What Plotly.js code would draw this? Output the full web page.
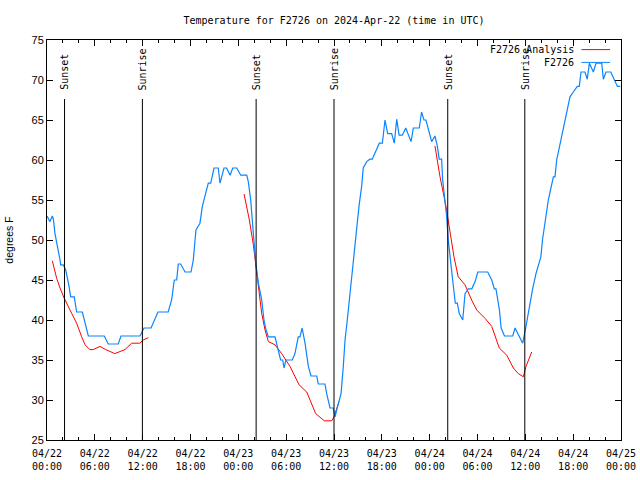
<!DOCTYPE html>
<html>
<head>
<meta charset="utf-8">
<script src="https://cdn.plot.ly/plotly-3.0.1.min.js"></script>
<style>html,body{margin:0;padding:0;background:#fff}#chart{width:640px;height:480px}</style>
</head>
<body>
<div id="chart"></div>
<script>
// Observations (F2726)
var blueTimes = [
"2024-04-22 00:00","2024-04-22 00:22","2024-04-22 00:40","2024-04-22 00:48","2024-04-22 01:00","2024-04-22 01:15","2024-04-22 01:25","2024-04-22 01:38","2024-04-22 01:43","2024-04-22 02:02",
"2024-04-22 02:21","2024-04-22 02:38","2024-04-22 02:46","2024-04-22 02:58","2024-04-22 03:25","2024-04-22 03:43","2024-04-22 04:26","2024-04-22 05:11","2024-04-22 07:11","2024-04-22 07:41",
"2024-04-22 08:56","2024-04-22 09:17","2024-04-22 11:40","2024-04-22 12:10","2024-04-22 13:03","2024-04-22 13:55","2024-04-22 15:12","2024-04-22 15:38","2024-04-22 15:58","2024-04-22 16:16",
"2024-04-22 16:28","2024-04-22 16:46","2024-04-22 17:19","2024-04-22 18:04","2024-04-22 18:21","2024-04-22 18:41","2024-04-22 19:11","2024-04-22 19:29","2024-04-22 19:49","2024-04-22 20:14",
"2024-04-22 20:32","2024-04-22 20:57","2024-04-22 21:29","2024-04-22 21:42","2024-04-22 22:12","2024-04-22 22:32","2024-04-22 22:58","2024-04-22 23:18","2024-04-22 23:48",
"2024-04-23 00:18","2024-04-23 01:03","2024-04-23 01:15","2024-04-23 01:33","2024-04-23 01:45","2024-04-23 01:58","2024-04-23 02:11","2024-04-23 02:31","2024-04-23 02:56","2024-04-23 03:13",
"2024-04-23 03:28","2024-04-23 03:46","2024-04-23 04:36","2024-04-23 05:00","2024-04-23 05:18","2024-04-23 05:34","2024-04-23 05:44","2024-04-23 05:59","2024-04-23 06:46","2024-04-23 07:06",
"2024-04-23 07:31","2024-04-23 07:44","2024-04-23 08:00","2024-04-23 08:22","2024-04-23 08:47","2024-04-23 09:07","2024-04-23 09:50","2024-04-23 10:02","2024-04-23 10:52","2024-04-23 11:05",
"2024-04-23 11:30","2024-04-23 11:54","2024-04-23 12:08","2024-04-23 12:20","2024-04-23 12:53","2024-04-23 13:10","2024-04-23 13:23","2024-04-23 13:40","2024-04-23 14:00","2024-04-23 14:18",
"2024-04-23 14:38","2024-04-23 14:51","2024-04-23 15:08","2024-04-23 15:28","2024-04-23 15:40","2024-04-23 16:06","2024-04-23 16:30","2024-04-23 16:48","2024-04-23 17:08","2024-04-23 17:41",
"2024-04-23 18:04","2024-04-23 18:24","2024-04-23 18:44","2024-04-23 19:14","2024-04-23 19:34","2024-04-23 19:52","2024-04-23 20:10","2024-04-23 20:34","2024-04-23 21:00","2024-04-23 21:40",
"2024-04-23 21:57","2024-04-23 22:42","2024-04-23 22:59","2024-04-23 23:17","2024-04-23 23:32","2024-04-23 23:50",
"2024-04-24 00:15","2024-04-24 00:40","2024-04-24 00:58","2024-04-24 01:12","2024-04-24 01:30","2024-04-24 01:38","2024-04-24 01:55","2024-04-24 02:08","2024-04-24 02:20","2024-04-24 02:33",
"2024-04-24 02:53","2024-04-24 03:13","2024-04-24 03:28","2024-04-24 03:43","2024-04-24 04:09","2024-04-24 04:26","2024-04-24 04:51","2024-04-24 05:17","2024-04-24 05:42","2024-04-24 06:02",
"2024-04-24 07:17","2024-04-24 07:47","2024-04-24 08:07","2024-04-24 08:19","2024-04-24 08:32","2024-04-24 08:45","2024-04-24 08:58","2024-04-24 09:23","2024-04-24 10:25","2024-04-24 10:43",
"2024-04-24 11:10","2024-04-24 11:40","2024-04-24 12:00","2024-04-24 12:29","2024-04-24 12:55","2024-04-24 13:20","2024-04-24 13:45","2024-04-24 13:57","2024-04-24 14:09","2024-04-24 14:29",
"2024-04-24 14:53","2024-04-24 15:31","2024-04-24 15:43","2024-04-24 15:56","2024-04-24 16:26","2024-04-24 16:59","2024-04-24 17:36","2024-04-24 18:01","2024-04-24 18:31","2024-04-24 18:46",
"2024-04-24 18:59","2024-04-24 19:29","2024-04-24 19:46","2024-04-24 20:02","2024-04-24 20:32","2024-04-24 20:52","2024-04-24 21:35","2024-04-24 21:47","2024-04-24 22:07","2024-04-24 22:43",
"2024-04-24 23:08","2024-04-24 23:33","2024-04-24 23:54"
];
var blueTemps = [
53.0,52.3,53.0,52.6,50.8,49.6,48.5,47.5,46.9,46.9,
46.25,45.0,44.2,42.9,42.9,41.0,41.0,38.0,38.0,37.0,
37.0,38.0,38.0,39.0,39.0,41.0,41.0,42.5,45.0,45.0,
47.0,47.0,46.0,46.0,47.5,51.25,52.1,54.2,55.4,57.1,
57.1,59.0,59.0,57.1,59.0,59.0,58.1,59.0,59.0,
58.1,58.1,57.3,55.0,52.5,49.2,47.1,44.6,42.5,40.0,
38.8,37.9,37.9,36.25,35.0,35.0,34.0,35.0,35.0,35.8,
37.9,37.9,39.0,37.1,34.2,33.0,33.0,32.0,32.0,30.8,
29.0,29.0,27.9,28.75,30.8,34.2,37.5,40.0,43.3,45.8,
48.75,51.7,54.2,56.7,59.0,59.8,60.1,60.1,60.8,62.1,
62.1,65.0,63.3,63.3,62.1,65.1,63.1,63.1,64.0,62.3,
64.0,64.0,66.0,65.0,65.0,63.75,
62.3,63.0,61.7,60.1,60.1,57.5,55.0,52.9,50.0,48.3,
45.0,42.1,42.1,40.8,40.0,43.3,43.9,43.9,44.8,46.0,
46.0,45.0,43.9,43.9,42.5,41.25,39.0,38.0,38.0,39.0,
38.1,37.1,38.75,41.7,43.9,45.8,47.2,47.9,50.0,52.5,
55.0,57.9,57.9,60.0,62.5,65.0,67.9,68.5,69.2,69.2,
71.0,71.0,70.1,72.1,71.0,72.1,72.1,70.1,71.0,71.0,
70.2,69.2,69.2
];
// Analysis (F2726 Analysis), null = gap
var redTimes = [
"2024-04-22 00:40","2024-04-22 01:13","2024-04-22 01:38","2024-04-22 02:10","2024-04-22 02:53","2024-04-22 03:43","2024-04-22 04:21","2024-04-22 04:46","2024-04-22 05:23","2024-04-22 05:48",
"2024-04-22 06:39","2024-04-22 07:22","2024-04-22 08:30","2024-04-22 09:47","2024-04-22 10:37","2024-04-22 11:38","2024-04-22 12:05","2024-04-22 12:43","2024-04-22 18:00",
"2024-04-23 00:43","2024-04-23 01:23","2024-04-23 01:53","2024-04-23 02:13","2024-04-23 02:33","2024-04-23 02:56","2024-04-23 03:21","2024-04-23 03:46","2024-04-23 04:36","2024-04-23 05:26",
"2024-04-23 06:29","2024-04-23 07:37","2024-04-23 08:35","2024-04-23 09:12","2024-04-23 09:42","2024-04-23 10:47","2024-04-23 11:43","2024-04-23 12:00","2024-04-23 12:38","2024-04-23 18:00",
"2024-04-24 00:40","2024-04-24 01:18","2024-04-24 02:03","2024-04-24 02:33","2024-04-24 03:03","2024-04-24 03:35","2024-04-24 04:26","2024-04-24 05:16","2024-04-24 05:54","2024-04-24 06:57",
"2024-04-24 07:47","2024-04-24 08:44","2024-04-24 09:40","2024-04-24 10:30","2024-04-24 11:07","2024-04-24 11:45","2024-04-24 12:05","2024-04-24 12:48"
];
var redTemps = [
47.4,45.2,44.0,42.7,41.25,39.6,37.9,36.9,36.3,36.3,
36.7,36.3,35.8,36.3,37.1,37.1,37.5,37.8,null,
55.75,52.5,49.4,46.7,43.3,40.8,38.75,37.3,36.9,35.8,
34.2,31.9,31.0,29.6,28.3,27.4,27.4,27.9,29.8,null,
61.75,57.9,54.2,50.8,47.9,45.4,44.4,42.5,41.25,40.2,
39.2,36.5,35.6,34.0,33.3,32.9,34.2,36.0
];
// Sunset / sunrise markers
var eventTimes = ["2024-04-22 02:12","2024-04-22 11:58","2024-04-23 02:14","2024-04-23 12:00","2024-04-24 02:16","2024-04-24 11:56"];
var eventLabels = ["Sunset","Sunrise","Sunset","Sunrise","Sunset","Sunrise"];
var seriesNames = ["F2726 Analysis","F2726"];
var seriesColors = ["#ff0000","#0a84ff"];

var mono = "DejaVu Sans Mono, Liberation Mono, monospace";
var sans = "Liberation Sans, Arial, sans-serif";

var traces = [
  {x: redTimes, y: redTemps, type: "scatter", mode: "lines", name: seriesNames[0],
   line: {color: seriesColors[0], width: 1}, connectgaps: false, showlegend: false},
  {x: blueTimes, y: blueTemps, type: "scatter", mode: "lines", name: seriesNames[1],
   line: {color: seriesColors[1], width: 1.2}, showlegend: false}
];

var shapes = [];
var annotations = [];
eventTimes.forEach(function(t, i){
  shapes.push({type: "line", xref: "x", yref: "paper", x0: t, x1: t, y0: 0, y1: 0.8525,
    line: {color: "#000", width: 1}});
  annotations.push({xref: "x", yref: "paper", x: t, y: 0.872, text: eventLabels[i],
    textangle: -90, showarrow: false, xanchor: "center", yanchor: "bottom",
    font: {family: mono, size: 10, color: "#000"}, borderpad: 0});
});
// legend (gnuplot style: text then sample)
var legY = [0.976, 0.944];
seriesNames.forEach(function(n, i){
  annotations.push({xref: "paper", yref: "paper", x: 0.919, y: legY[i], text: n,
    showarrow: false, xanchor: "right", yanchor: "middle",
    font: {family: mono, size: 10, color: "#000"}, borderpad: 0});
  shapes.push({type: "line", xref: "paper", yref: "paper", x0: 0.931, x1: 0.981,
    y0: legY[i], y1: legY[i], line: {color: seriesColors[i], width: 1}});
});

var layout = {
  width: 640, height: 480,
  margin: {l: 47, r: 19, t: 40, b: 40},
  paper_bgcolor: "#fff", plot_bgcolor: "#fff",
  title: {text: "Temperature for F2726 on 2024-Apr-22 (time in UTC)",
    font: {family: mono, size: 10, color: "#000"},
    x: 0.5, xref: "paper", xanchor: "center", y: 0.958, yref: "container", yanchor: "middle"},
  xaxis: {
    type: "date", range: ["2024-04-22 00:00", "2024-04-25 00:00"],
    dtick: 21600000, tick0: "2024-04-22 00:00", tickformat: "%m/%d<br>%H:%M",
    ticks: "inside", ticklen: 6, tickcolor: "#000", tickwidth: 1,
    minor: {dtick: 7200000, ticks: "inside", ticklen: 3, tickcolor: "#000", showgrid: false},
    showline: true, linecolor: "#000", linewidth: 1, mirror: "ticks",
    showgrid: false, zeroline: false,
    tickfont: {family: mono, size: 10, color: "#000"},
    ticklabelstandoff: 4, fixedrange: true
  },
  yaxis: {
    range: [25, 75], dtick: 5, tick0: 25,
    ticks: "inside", ticklen: 6, tickcolor: "#000", tickwidth: 1,
    showline: true, linecolor: "#000", linewidth: 1, mirror: "ticks",
    showgrid: false, zeroline: false,
    tickfont: {family: sans, size: 11, color: "#000"},
    title: {text: "degrees F", font: {family: sans, size: 10.5, color: "#000"}, standoff: 15},
    fixedrange: true
  },
  shapes: shapes,
  annotations: annotations,
  showlegend: false,
  hovermode: false
};

Plotly.newPlot("chart", traces, layout, {staticPlot: true, displayModeBar: false});
</script>
</body>
</html>
